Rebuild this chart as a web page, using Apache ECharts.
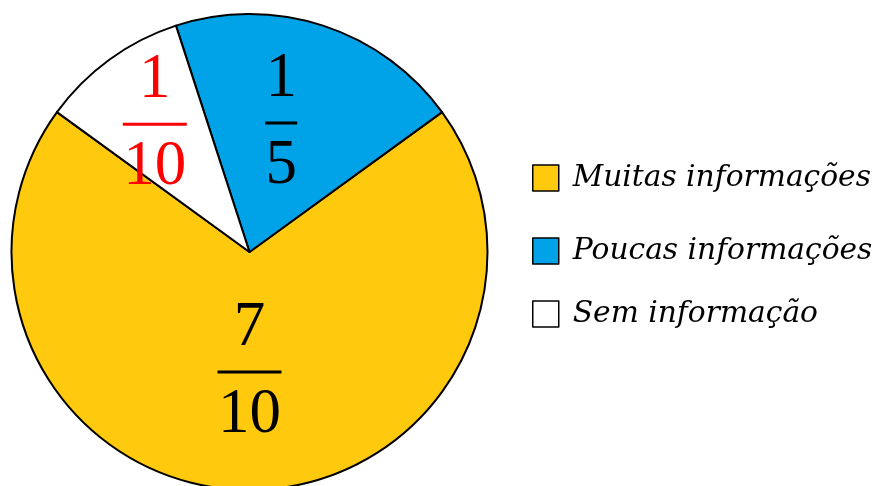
<!DOCTYPE html>
<html>
<head>
<meta charset="utf-8">
<script src="https://cdn.jsdelivr.net/npm/echarts@6/dist/echarts.min.js"></script>
<style>
  html, body { margin: 0; padding: 0; background: #ffffff; }
  #chart { width: 879px; height: 486px; }
</style>
</head>
<body>
<div id="chart"></div>
<script>
// Categories and their shares, written as fractions
const categories = ['Muitas informações', 'Poucas informações', 'Sem informação'];
const numerators = [7, 1, 1];
const denominators = [10, 5, 10];
const sliceColors = ['#FFC90E', '#00A2E8', '#FFFFFF'];
const labelColors = ['#000000', '#000000', '#FF0000'];

// label nudges from the default inside position (dx, dy)
const labelShift = [[0, -2], [-6, -13], [-23, -29]];

const chart = echarts.init(document.getElementById('chart'), null, { renderer: 'canvas' });

const fracFont = 'Liberation Serif, Times New Roman, serif';

function fractionRich() {
  const rich = {};
  labelColors.forEach((c, i) => {
    rich['n' + i] = { fontFamily: fracFont, fontSize: 63, lineHeight: 62, color: c, align: 'center' };
    rich['b' + i] = {
      backgroundColor: c, height: 3, lineHeight: 25, fontSize: 1,
      width: String(denominators[i]).length * 32, align: 'center'
    };
  });
  return rich;
}

const data = categories.map((name, i) => ({
  name: name,
  value: numerators[i] / denominators[i],
  itemStyle: { color: sliceColors[i] }
}));

// one legend block per row so each row keeps its own vertical position
const legendTops = [158, 231, 294];
const legends = categories.map((name, i) => ({
  data: [name],
  orient: 'vertical',
  left: 527,
  top: legendTops[i],
  icon: 'rect',
  itemWidth: 26,
  itemHeight: 26,
  selectedMode: false,
  itemStyle: { borderColor: '#000', borderWidth: 1.5 },
  textStyle: {
    fontFamily: 'DejaVu Serif',
    fontStyle: 'italic',
    fontSize: 29.7,
    color: '#000',
    padding: [0, 0, 0, 9]
  }
}));

chart.setOption({
  animation: false,
  backgroundColor: '#ffffff',
  legend: legends,
  series: [{
    type: 'pie',
    center: [249.5, 252],
    radius: 238,
    startAngle: 144,
    clockwise: false,
    avoidLabelOverlap: false,
    silent: true,
    emphasis: { disabled: true },
    itemStyle: { borderColor: '#000', borderWidth: 2 },
    label: {
      show: true,
      position: 'inside',
      formatter: function (p) {
        const i = p.dataIndex;
        return '{n' + i + '|' + numerators[i] + '}\n{b' + i + '| }\n{n' + i + '|' + denominators[i] + '}';
      },
      rich: fractionRich()
    },
    labelLine: { show: false },
    labelLayout: function (p) {
      const s = labelShift[p.dataIndex];
      return { dx: s[0], dy: s[1] };
    },
    data: data
  }]
});
</script>
</body>
</html>
